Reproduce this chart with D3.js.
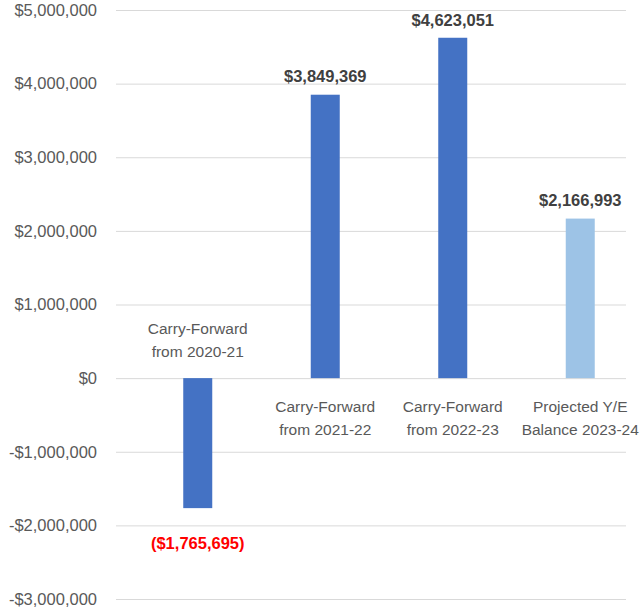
<!DOCTYPE html>
<html>
<head>
<meta charset="utf-8">
<script src="https://cdn.jsdelivr.net/npm/d3@7"></script>
<style>
  body { margin: 0; background: #fff; }
  svg { font-family: "Liberation Sans", Arial, sans-serif; }
</style>
</head>
<body>
<svg id="chart" width="640" height="615"></svg>
<script>
var categories = [
    ["Carry-Forward", "from 2020-21"],
    ["Carry-Forward", "from 2021-22"],
    ["Carry-Forward", "from 2022-23"],
    ["Projected Y/E", "Balance 2023-24"]
];
var values = [-1765695, 3849369, 4623051, 2166993];
var barColors = ["#4472C4", "#4472C4", "#4472C4", "#9DC3E6"];
var yTicks = [-3000000, -2000000, -1000000, 0, 1000000, 2000000, 3000000, 4000000, 5000000];

var svg = d3.select("#chart");

var y = d3.scaleLinear()
          .domain([-3000000, 5000000])
          .range([599, 10]);

var x = d3.scaleBand()
          .domain(d3.range(values.length))
          .range([134, 644])
          .paddingInner(0)
          .paddingOuter(0);

var gridLeft = 116, gridRight = 626;

var money = d3.format("$,.0f");
function tickFmt(v) {
    return v < 0 ? "-" + money(-v) : money(v);
}
function valFmt(v) {
    return v < 0 ? "(" + money(-v) + ")" : money(v);
}

// gridlines
svg.append("g")
   .selectAll("line")
   .data(yTicks)
   .enter()
   .append("line")
   .attr("x1", gridLeft)
   .attr("x2", gridRight)
   .attr("y1", d => y(d) + 0.5)
   .attr("y2", d => y(d) + 0.5)
   .attr("stroke", "#d9d9d9")
   .attr("stroke-width", 1);

// tick labels
svg.append("g")
   .selectAll("text")
   .data(yTicks)
   .enter()
   .append("text")
   .attr("x", 97)
   .attr("y", d => y(d))
   .attr("dy", "0.35em")
   .attr("text-anchor", "end")
   .attr("fill", "#595959")
   .style("font-size", "16.5px")
   .text(tickFmt);

var barW = 29;

// bars
svg.append("g")
   .selectAll("rect")
   .data(values)
   .enter()
   .append("rect")
   .attr("x", (d, i) => x(i) + x.bandwidth() / 2 - barW / 2)
   .attr("width", barW)
   .attr("y", d => y(Math.max(0, d)))
   .attr("height", d => Math.abs(y(d) - y(0)))
   .attr("fill", (d, i) => barColors[i]);

// value labels
svg.append("g")
   .selectAll("text")
   .data(values)
   .enter()
   .append("text")
   .attr("x", (d, i) => x(i) + x.bandwidth() / 2)
   .attr("y", d => d < 0 ? y(d) + 35 : y(d) - 18)
   .attr("dy", "0.35em")
   .attr("text-anchor", "middle")
   .attr("fill", d => d < 0 ? "#FF0000" : "#404040")
   .style("font-size", "16.5px")
   .style("font-weight", "bold")
   .text(valFmt);

// category labels: above zero for negatives, below for positives
var catG = svg.append("g")
   .selectAll("text")
   .data(categories)
   .enter()
   .append("text")
   .attr("text-anchor", "middle")
   .attr("fill", "#595959")
   .style("font-size", "15.5px");

catG.each(function(lines, i) {
    var t = d3.select(this);
    var cx = x(i) + x.bandwidth() / 2;
    var top = values[i] < 0 ? y(0) - 50 : y(0) + 28;
    lines.forEach((s, k) => {
        t.append("tspan")
         .attr("x", cx)
         .attr("y", top + k * 23)
         .attr("dy", "0.35em")
         .text(s);
    });
});
</script>
</body>
</html>
